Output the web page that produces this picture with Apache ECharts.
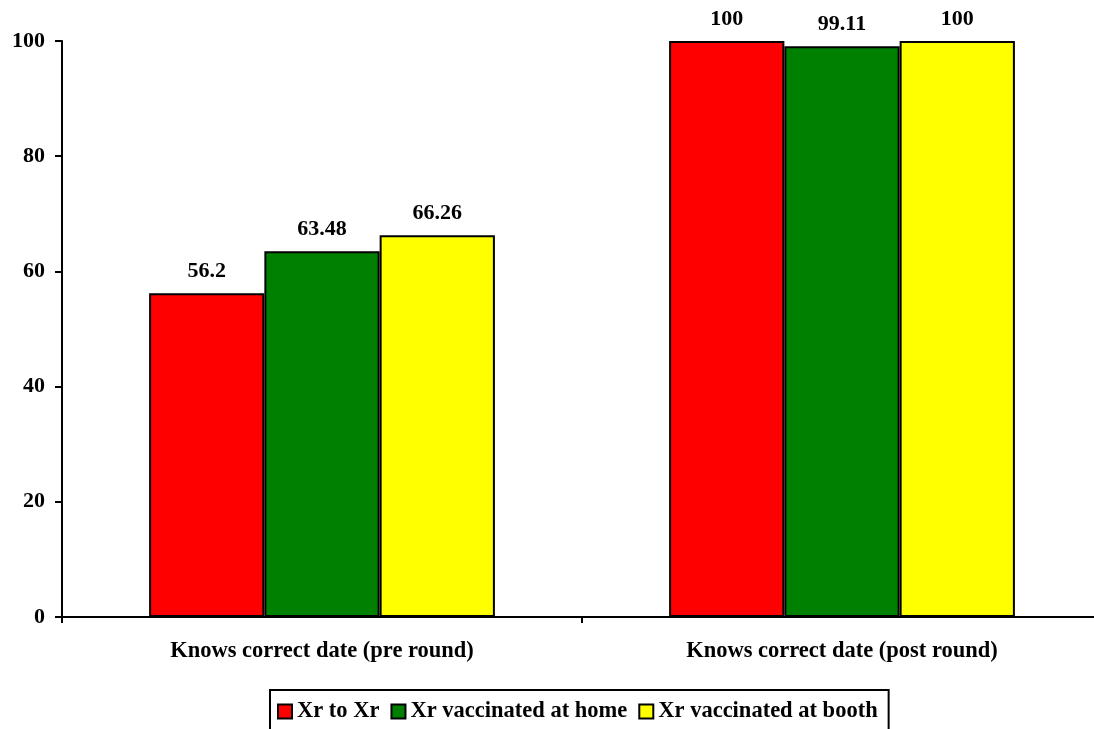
<!DOCTYPE html>
<html>
<head>
<meta charset="utf-8">
<script src="https://cdn.jsdelivr.net/npm/echarts@6/dist/echarts.min.js"></script>
<style>
  html, body { margin: 0; padding: 0; background: #fff; overflow: hidden; }
  /* the plot runs a little past the right edge of the window */
  #chart { width: 1102px; height: 729px; }
</style>
</head>
<body>
<div id="chart"></div>
<script>
// Awareness of the correct round date, by vaccination group
const categories = ['Knows correct date (pre round)', 'Knows correct date (post round)'];
const seriesNames = ['Xr to Xr', 'Xr vaccinated at home', 'Xr vaccinated at booth'];
const xrToXr = [56.2, 100];
const vaccinatedAtHome = [63.48, 99.11];
const vaccinatedAtBooth = [66.26, 100];
const yTicks = [0, 20, 40, 60, 80, 100];

const colors = ['#ff0000', '#008000', '#ffff00'];
const font = '"Liberation Serif", "Times New Roman", serif';

const chart = echarts.init(document.getElementById('chart'));

function barSeries(name, data, color) {
  return {
    name: name,
    type: 'bar',
    data: data,
    barGap: '0%',
    barCategoryGap: '33.5%',
    itemStyle: { color: color, borderColor: '#000', borderWidth: 2 },
    label: {
      show: true,
      position: 'top',
      distance: 11,
      color: '#000',
      fontFamily: font,
      fontWeight: 'bold',
      fontSize: 22
    }
  };
}

chart.setOption({
  animation: false,
  backgroundColor: '#fff',
  textStyle: { fontFamily: font },
  grid: { left: 62, top: 41, right: 0, bottom: 112, containLabel: false },
  legend: {
    top: 690,
    left: 270,
    data: seriesNames,
    icon: 'rect',
    itemWidth: 14,
    itemHeight: 14,
    itemGap: 11,
    borderColor: '#000',
    borderWidth: 2,
    padding: [10, 11, 30, 7],
    textStyle: { fontFamily: font, fontWeight: 'bold', fontSize: 22.5, color: '#000' },
    itemStyle: { borderColor: '#000', borderWidth: 2 }
  },
  xAxis: {
    type: 'category',
    data: categories,
    axisLine: { lineStyle: { color: '#000', width: 2 } },
    axisTick: { show: true, length: 6, lineStyle: { color: '#000', width: 2 } },
    axisLabel: {
      margin: 23,
      color: '#000',
      fontFamily: font,
      fontWeight: 'bold',
      fontSize: 22.5
    }
  },
  yAxis: {
    type: 'value',
    min: yTicks[0],
    max: yTicks[yTicks.length - 1],
    interval: yTicks[1] - yTicks[0],
    splitLine: { show: false },
    axisLine: { show: true, lineStyle: { color: '#000', width: 2 } },
    axisTick: { show: true, length: 7, lineStyle: { color: '#000', width: 2 } },
    axisLabel: {
      margin: 17,
      color: '#000',
      fontFamily: font,
      fontWeight: 'bold',
      fontSize: 22
    }
  },
  series: [
    barSeries(seriesNames[0], xrToXr, colors[0]),
    barSeries(seriesNames[1], vaccinatedAtHome, colors[1]),
    barSeries(seriesNames[2], vaccinatedAtBooth, colors[2])
  ]
});
</script>
</body>
</html>
